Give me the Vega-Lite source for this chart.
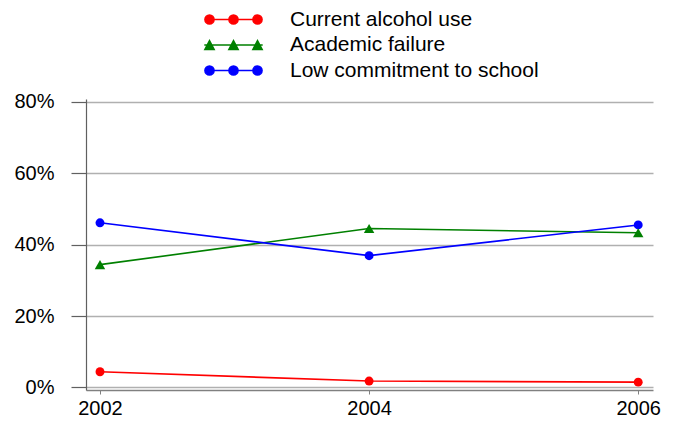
{
  "$schema": "https://vega.github.io/schema/vega-lite/v6.json",
  "width": 567,
  "height": 291,
  "autosize": "none",
  "padding": {"left": 86, "top": 99, "right": 20, "bottom": 31},
  "config": {
    "view": {"stroke": null},
    "font": "Liberation Sans",
    "axis": {"labelFont": "Liberation Sans", "labelFontSize": 20, "labelColor": "#000000"},
    "legend": {"labelFont": "Liberation Sans", "labelFontSize": 21, "labelColor": "#000000", "labelLimit": 0}
  },
  "data": {
    "values": [
      {"year": 2002, "series": "Current alcohol use", "value": 4.4},
      {"year": 2004, "series": "Current alcohol use", "value": 1.8},
      {"year": 2006, "series": "Current alcohol use", "value": 1.5},
      {"year": 2002, "series": "Academic failure", "value": 34.4},
      {"year": 2004, "series": "Academic failure", "value": 44.5},
      {"year": 2006, "series": "Academic failure", "value": 43.3},
      {"year": 2002, "series": "Low commitment to school", "value": 46.1},
      {"year": 2004, "series": "Low commitment to school", "value": 36.9},
      {"year": 2006, "series": "Low commitment to school", "value": 45.5}
    ]
  },
  "encoding": {
    "x": {
      "field": "year", "type": "quantitative",
      "scale": {"domain": [2001.896, 2006.11], "nice": false, "zero": false},
      "axis": {
        "title": null, "values": [2002, 2004, 2006], "format": "d",
        "grid": false, "domainColor": "#808080", "domainWidth": 1.5,
        "tickColor": "#808080", "tickSize": 4, "labelPadding": 4
      }
    },
    "y": {
      "field": "value", "type": "quantitative",
      "scale": {"domain": [-0.7, 80.75], "nice": false, "zero": false},
      "axis": {
        "title": null, "values": [0, 20, 40, 60, 80],
        "labelExpr": "datum.value + '%'",
        "grid": true, "gridColor": "#b0b0b0", "gridWidth": 1.5,
        "domainColor": "#606060", "domainWidth": 1.2,
        "tickColor": "#606060", "tickSize": 15, "tickWidth": 1.2, "labelPadding": 17
      }
    },
    "color": {
      "field": "series", "type": "nominal",
      "scale": {
        "domain": ["Current alcohol use", "Academic failure", "Low commitment to school"],
        "range": ["#ff0000", "#008000", "#0000ff"]
      },
      "legend": {
        "title": null,
        "orient": "none",
        "legendX": 137,
        "legendY": -90,
        "symbolSize": 64,
        "symbolStrokeWidth": 1.5,
        "labelOffset": 46,
        "rowPadding": 3.5,
        "encode": {
          "symbols": {
            "update": {
              "shape": {"signal": "datum.value === 'Academic failure' ? 'M-7.3,0L7.3,0M-7.17,1.15L-6,-1.1L-4.83,1.15ZM-1.17,1.15L0,-1.1L1.17,1.15ZM4.83,1.15L6,-1.1L7.17,1.15Z' : 'M-7.3,0L7.3,0M-7.15,0a1.15,1.15 0 1,0 2.3,0a1.15,1.15 0 1,0 -2.3,0M-1.15,0a1.15,1.15 0 1,0 2.3,0a1.15,1.15 0 1,0 -2.3,0M4.85,0a1.15,1.15 0 1,0 2.3,0a1.15,1.15 0 1,0 -2.3,0'"},
              "fill": {"signal": "datum.value === 'Current alcohol use' ? '#ff0000' : datum.value === 'Academic failure' ? '#008000' : '#0000ff'"},
              "stroke": {"signal": "datum.value === 'Current alcohol use' ? '#ff0000' : datum.value === 'Academic failure' ? '#008000' : '#0000ff'"},
              "opacity": {"value": 1},
              "fillOpacity": {"value": 1}
            }
          }
        }
      }
    }
  },
  "layer": [
    {
      "mark": {"type": "line", "strokeWidth": 1.6}
    },
    {
      "transform": [{"filter": "datum.series !== 'Academic failure'"}],
      "mark": {"type": "point", "filled": true, "opacity": 1, "size": 80, "shape": "circle"}
    },
    {
      "transform": [{"filter": "datum.series === 'Academic failure'"}],
      "mark": {"type": "point", "filled": true, "opacity": 1, "size": 110, "shape": "triangle-up"}
    }
  ]
}
